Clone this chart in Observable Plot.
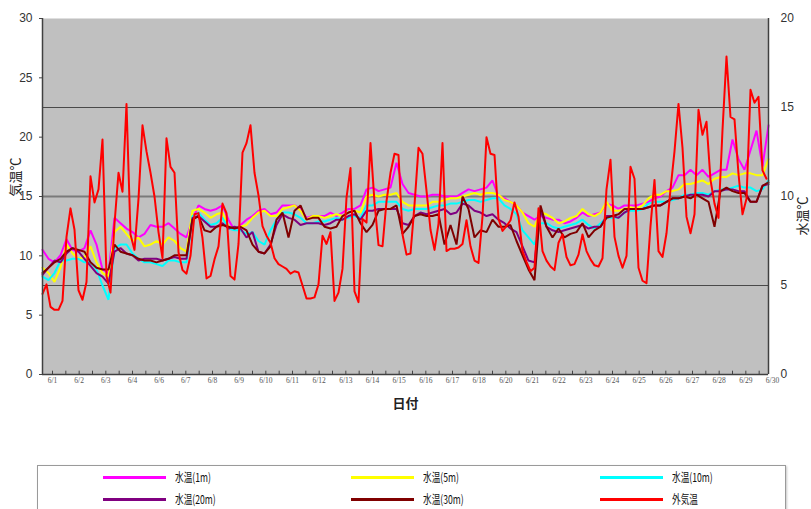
<!DOCTYPE html>
<html>
<head>
<meta charset="utf-8">
<script src="https://cdn.jsdelivr.net/npm/d3@7"></script>
<script src="https://cdn.jsdelivr.net/npm/@observablehq/plot@0.6"></script>
<style>
  body { margin: 0; background: #fff; }
  #wrap { position: relative; width: 811px; height: 509px; overflow: hidden; }
  #legend { position: absolute; left: 37px; top: 465px; width: 747px; height: 60px;
            border: 1px solid #9a9a9a; box-shadow: 1px 1px 2px #c8c8c8; background: #fff; }
  .lg-line { position: absolute; width: 63px; height: 3px; }
  .lg-text { position: absolute; font-family: "Noto Sans CJK JP", sans-serif; font-size: 12px;
             color: #111; line-height: 14px; white-space: nowrap; transform-origin: 0 50%;
             transform: scaleX(0.72); }
</style>
</head>
<body>
<div id="wrap">
  <div id="chart"></div>
  <div id="legend"></div>
</div>
<script>
// ---- category tick labels (as printed on the x axis) ----
const tickLabels = ["6/1","6/2","6/3","6/4","6/6","6/7","6/8","6/9","6/10","6/11","6/12","6/13","6/14","6/15",
                    "6/16","6/17","6/18","6/20","6/21","6/22","6/23","6/24","6/25","6/26","6/27","6/28","6/29","6/30"];

// ---- axis ticks ----
const airTicks = [0, 5, 10, 15, 20, 25, 30];   // 気温 (left axis)
const waterTicks = [0, 5, 10, 15, 20];         // 水温 (right axis)

// ---- series names / colours ----
const seriesNames = ["水温(1m)", "水温(5m)", "水温(10m)", "水温(20m)", "水温(30m)", "外気温"];
const seriesColors = ["#ff00ff", "#ffff00", "#00ffff", "#800080", "#800000", "#ff0000"];

// ---- 外気温 (air temperature, °C, left axis) ----
const airTemp = [
  6.8,7.6,5.7,5.45,5.45,6.2,11.6,14.0,12.2,7.1,
  6.3,7.8,16.7,14.5,15.6,19.8,8.3,6.9,12.7,17.0,
  15.4,22.8,11.8,10.5,14.8,21.0,18.8,17.0,15.0,12.0,
  9.8,19.9,17.5,17.0,10.3,8.8,8.5,10.0,13.5,13.6,
  11.5,8.1,8.3,9.7,10.8,14.4,13.6,8.3,8.0,11.0,
  18.7,19.5,21.0,17.0,15.1,12.5,11.7,11.1,9.8,9.3,
  9.1,8.9,8.5,8.7,8.6,7.5,6.4,6.4,6.5,7.6,
  11.7,11.0,12.0,6.2,6.9,8.9,14.9,17.4,7.0,6.1,
  13.1,12.8,19.5,14.5,10.9,10.8,14.6,17.0,18.6,18.5,
  11.8,10.1,10.2,14.3,19.1,18.6,15.5,12.2,10.5,12.7,
  19.5,10.4,10.6,10.6,10.7,11.0,13.0,10.8,9.6,9.4,
  13.3,20.0,18.6,18.5,13.1,12.1,12.5,13.0,14.5,13.3,
  10.4,9.5,8.7,9.0,14.0,10.4,9.6,9.1,8.8,11.1,
  11.8,9.9,9.2,9.3,10.1,11.8,10.4,9.7,9.2,9.1,
  9.8,15.6,18.1,11.6,10.0,9.0,10.0,17.5,16.5,9.0,
  7.9,7.7,12.5,16.4,10.4,9.9,11.9,15.6,18.8,22.8,
  19.1,13.3,11.9,13.5,22.3,20.2,21.3,16.4,14.4,13.2,
  20.6,26.8,21.7,21.5,16.9,13.5,14.8,24.0,22.9,23.4,
  17.2,16.5
];

// ---- 水温 (water temperature, °C, right axis) ----
const water1m = [
  7.0,6.5,6.3,6.7,7.6,7.0,6.9,7.1,8.1,7.3,
  5.9,5.7,8.8,8.5,8.2,8.0,7.7,7.9,8.4,8.3,
  8.3,8.5,8.2,7.9,7.7,8.7,9.5,9.3,9.2,9.3,
  9.5,8.7,8.1,8.4,8.7,8.9,9.2,9.3,9.0,9.1,
  9.5,9.5,9.5,9.3,8.8,8.9,8.9,8.9,9.1,8.9,
  9.1,9.3,9.3,9.5,10.4,10.5,10.3,10.4,10.5,11.9,
  10.7,10.2,10.1,10.0,10.0,10.1,10.1,10.0,10.0,10.0,
  10.2,10.4,10.3,10.4,10.5,10.9,10.0,9.9,9.7,9.5,
  9.1,8.9,8.7,8.9,8.8,8.7,8.7,8.5,8.6,8.8,
  9.1,8.9,9.0,9.1,9.6,9.5,9.3,9.5,9.5,9.5,
  9.6,9.7,9.9,10.0,10.3,10.5,11.2,11.2,11.5,11.2,
  11.5,11.1,11.3,11.5,11.5,13.2,12.1,11.5,12.6,13.7,
  11.7,14.0
];
const water5m = [
  6.0,5.7,5.2,6.0,7.3,6.8,6.5,6.6,7.2,6.3,
  5.7,5.5,8.0,8.3,7.9,7.5,7.7,7.2,7.3,7.5,
  7.3,7.7,7.5,7.1,6.9,9.2,9.3,9.1,8.8,9.0,
  9.1,8.3,8.2,8.3,8.4,8.8,9.1,9.2,8.9,8.9,
  9.3,9.4,9.5,9.2,8.7,8.9,8.9,8.8,8.9,9.0,
  8.9,9.1,9.2,9.1,10.0,10.1,10.0,10.1,10.1,10.2,
  9.7,9.5,9.5,9.5,9.5,9.7,9.7,9.8,9.9,9.9,
  10.0,10.1,10.2,10.1,10.2,10.2,10.1,9.8,9.7,9.5,
  9.1,8.5,8.3,9.1,9.0,8.8,8.5,8.6,8.8,8.9,
  9.3,9.0,8.9,9.1,9.7,9.2,9.2,9.3,9.4,9.3,
  9.5,9.9,10.1,10.1,10.3,10.3,10.4,10.7,10.7,10.8,
  10.9,10.7,11.0,11.1,11.1,11.3,11.2,11.3,11.3,11.2,
  11.2,12.1
];
const water10m = [
  5.5,5.3,5.7,6.4,6.4,6.5,6.5,6.3,6.3,5.9,
  5.0,4.2,7.1,7.3,7.3,6.8,6.5,6.3,6.3,6.2,
  6.1,6.4,6.4,6.3,6.3,8.9,9.1,8.7,8.4,8.5,
  8.8,8.2,8.1,8.1,7.9,8.0,7.5,7.3,8.1,8.7,
  9.1,9.1,9.0,8.8,8.5,8.5,8.6,8.6,8.7,8.8,
  8.7,8.8,8.9,8.8,9.5,9.5,9.7,9.7,9.7,9.7,
  9.3,9.2,9.3,9.3,9.3,9.4,9.5,9.5,9.6,9.6,
  9.7,9.8,9.8,9.7,9.8,9.9,9.9,9.5,9.3,9.0,
  8.1,7.7,7.3,8.5,8.5,8.3,8.2,8.3,8.4,8.5,
  8.7,8.4,8.2,8.5,8.8,8.8,8.8,9.1,9.2,9.2,
  9.3,9.6,9.7,9.7,9.7,9.8,9.9,10.1,10.1,10.2,
  10.2,10.1,10.3,10.4,10.4,10.5,10.6,10.5,10.5,10.3,
  10.4,10.9
];
const water20m = [
  5.6,6.0,6.4,6.3,6.8,7.1,6.9,6.5,6.1,5.7,
  5.5,5.1,6.9,7.1,6.8,6.7,6.4,6.5,6.5,6.5,
  6.4,6.5,6.6,6.5,6.5,8.8,8.9,8.6,8.3,8.3,
  8.5,8.2,8.3,8.2,7.7,8.0,6.9,6.8,7.3,8.4,
  9.0,8.8,8.7,8.4,8.5,8.5,8.5,8.4,8.5,8.7,
  8.7,8.9,9.0,8.7,9.2,9.2,9.3,9.3,9.3,9.3,
  8.5,8.4,8.9,9.1,9.0,9.1,9.2,9.3,9.0,9.1,
  9.6,9.5,9.2,9.1,8.9,9.0,8.7,8.5,8.2,8.0,
  7.2,6.4,6.3,9.2,8.3,8.1,8.0,8.1,8.2,8.3,
  8.4,8.2,8.3,8.3,8.9,8.9,8.8,9.1,9.3,9.3,
  9.3,9.4,9.5,9.5,9.7,9.9,9.9,10.0,10.1,10.1,
  10.1,10.0,10.3,10.3,10.4,10.4,10.3,10.3,9.7,9.7,
  10.6,10.7
];
const water30m = [
  5.7,6.0,6.3,6.5,6.9,7.1,7.0,6.9,6.3,6.0,
  5.9,5.9,7.3,6.9,6.8,6.7,6.5,6.4,6.4,6.3,
  6.4,6.5,6.7,6.7,6.7,8.7,8.9,8.1,8.0,8.3,
  8.4,8.3,8.2,8.3,8.1,7.3,6.9,6.8,7.2,8.7,
  9.1,7.7,9.2,9.5,8.7,8.8,8.8,8.3,8.2,8.3,
  8.9,9.1,9.2,8.5,8.0,8.4,9.2,9.3,9.3,9.5,
  7.9,8.3,8.9,9.0,8.9,8.9,9.0,7.3,8.4,7.3,
  10.0,9.3,7.7,8.1,8.0,8.7,8.3,8.3,8.4,7.5,
  6.7,5.9,5.3,9.5,8.3,7.7,8.2,7.7,7.9,8.0,
  8.5,7.7,8.1,8.3,8.8,8.9,9.0,9.3,9.3,9.3,
  9.3,9.4,9.5,9.5,9.7,9.9,9.9,10.0,9.9,10.1,
  9.9,9.7,8.3,10.3,10.5,10.3,10.2,10.2,9.7,9.7,
  10.6,10.8
];

// ---- time axis (in category-label units: label k sits at k) ----
const tStart = -0.375, tEnd = 26.85;
const airStep = 0.15;      // time between air-temperature readings
const waterStep = 0.225;   // time between water-temperature readings
const waterToAir = 30 / 20; // right axis 0–20 ↔ left axis 0–30

const waterSeries = [water1m, water5m, water10m, water20m, water30m];
const waterRows = waterSeries.map((arr, s) =>
  arr.map((w, j) => ({ s, t: tStart + j * waterStep, y: w * waterToAir })));
const airRows = airTemp.map((v, i) => ({ t: tStart + i * airStep, y: v }));

const minorTicks = d3.range(0, tickLabels.length * 2 - 1).map(k => k / 2).filter(t => t <= tEnd);
const gridVals = waterTicks.slice(1, -1).map(w => w * waterToAir);

const chart = Plot.plot({
  width: 811,
  height: 420,
  marginLeft: 42,
  marginRight: 43,
  marginTop: 18,
  marginBottom: 46,
  x: { domain: [tStart, tEnd] },
  y: { domain: [0, 30] },
  style: { fontFamily: "Liberation Sans, Arial, sans-serif", background: "transparent", color: "#333" },
  marks: [
    Plot.frame({ fill: "#c0c0c0", stroke: "none" }),
    Plot.ruleY(gridVals, { stroke: (d, i) => i === 1 ? "#7a7a7a" : "#4a4a4a", strokeWidth: (d, i) => i === 1 ? 2 : 1 }),
    ...waterRows.map((rows, s) =>
      Plot.line(rows, { x: "t", y: "y", stroke: seriesColors[s], strokeWidth: 2, strokeLinejoin: "miter" })),
    Plot.line(airRows, { x: "t", y: "y", stroke: seriesColors[5], strokeWidth: 2 }),
    Plot.ruleX(minorTicks, { y1: 0, y2: 0.28, stroke: "#444", strokeWidth: 1 }),
    Plot.ruleX([tStart], { stroke: "#404040", strokeWidth: 1.5 }),
    Plot.ruleX([tEnd], { stroke: "#404040", strokeWidth: 1.5 }),
    Plot.ruleY([0], { stroke: "#404040", strokeWidth: 1.5 }),
    Plot.axisY(airTicks, { anchor: "left", tickSize: 3, tickPadding: 7, fontSize: 12, label: null, stroke: "#444", fill: "#333" }),
    Plot.axisY(waterTicks.map(w => w * waterToAir), { anchor: "right", tickSize: 0, tickPadding: 12, fontSize: 12,
      tickFormat: v => Math.round(v / waterToAir), label: null, fill: "#333" }),
    Plot.axisX(tickLabels.map((d, i) => i), { anchor: "bottom", tickSize: 0, tickPadding: 3, fontSize: 7.5,
      fontFamily: "Liberation Serif, DejaVu Serif, serif", tickFormat: i => tickLabels[i], label: null, fill: "#555" }),
    Plot.text(["気温℃"], { text: d => d, frameAnchor: "left", dx: -27, rotate: -90, fontSize: 13,
      fontFamily: "Noto Sans CJK JP", fill: "#222" }),
    Plot.text(["水温℃"], { text: d => d, frameAnchor: "right", dx: 34, rotate: -90, fontSize: 13,
      fontFamily: "Noto Sans CJK JP", fill: "#222" }),
    Plot.text(["日付"], { text: d => d, frameAnchor: "bottom", dy: 33, fontSize: 13, fontWeight: "bold",
      fontFamily: "Noto Sans CJK JP", fill: "#222" })
  ]
});
document.getElementById("chart").appendChild(chart);

// ---- legend (HTML, below the chart) ----
const legend = document.getElementById("legend");
const colLeft = [65, 313, 562];
const rowTop = [11, 33];
seriesNames.forEach((name, i) => {
  const c = i % 3, r = Math.floor(i / 3);
  const line = document.createElement("div");
  line.className = "lg-line";
  line.style.left = colLeft[c] + "px";
  line.style.top = (rowTop[r] - 1) + "px";
  line.style.background = seriesColors[i];
  legend.appendChild(line);
  const txt = document.createElement("div");
  txt.className = "lg-text";
  txt.style.left = (colLeft[c] + 72) + "px";
  txt.style.top = (rowTop[r] - 7) + "px";
  txt.textContent = name;
  legend.appendChild(txt);
});
</script>
</body>
</html>
